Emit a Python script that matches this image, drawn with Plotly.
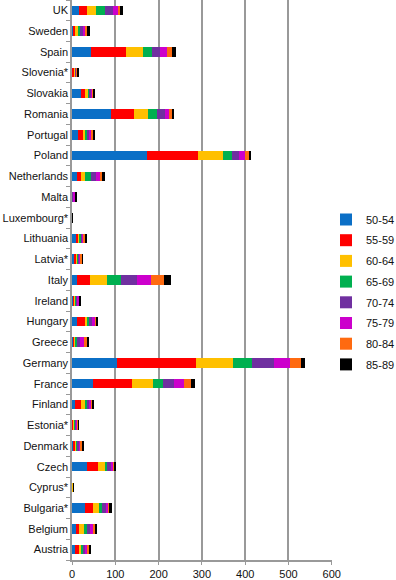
import plotly.graph_objects as go

countries = ["Austria", "Belgium", "Bulgaria*", "Cyprus*", "Czech", "Denmark", "Estonia*",
             "Finland", "France", "Germany", "Greece", "Hungary", "Ireland", "Italy",
             "Latvia*", "Lithuania", "Luxembourg*", "Malta", "Netherlands", "Poland",
             "Portugal", "Romania", "Slovakia", "Slovenia*", "Spain", "Sweden", "UK"]

age_groups = ["50-54", "55-59", "60-64", "65-69", "70-74", "75-79", "80-84", "85-89"]

v50_54 = [6, 9, 29, 0.3, 34, 3, 1, 6, 48, 103, 3, 12, 3, 11, 5.4, 10, 1.5, 0.5, 11, 173, 15, 90, 20, 1, 45, 4.6, 16]
v55_59 = [11, 7.7, 20, 0.3, 26, 4.6, 3, 15.4, 90, 183, 3, 17, 3, 31.5, 4, 4, 0.2, 0.5, 9, 118, 11, 54, 11, 4, 80, 3.8, 18]
v60_64 = [4.6, 11, 14, 3, 15.4, 2.3, 1.5, 9, 48, 85, 3, 6, 1.5, 38.5, 2.3, 4, 0.1, 0.5, 11, 57, 6, 32, 6, 2, 39, 4.6, 22]
v65_69 = [4.6, 6, 6, 0.2, 6, 2.3, 2, 6, 24.6, 45, 4.6, 6, 3, 33, 2.3, 3, 0.1, 0.5, 14, 21.5, 3, 20, 3, 2, 21.5, 5.4, 20]
v70_74 = [6, 7.7, 9, 0.1, 9, 4, 2, 3, 24, 51, 4.6, 4.6, 3, 36, 2.3, 3, 0.1, 1, 11, 15.4, 6, 18.5, 4.6, 1, 18.5, 7.7, 18]
v75_79 = [4.6, 6, 6, 0.1, 4.6, 4, 3.5, 4.6, 24, 36, 9, 7.7, 3, 33, 3, 3, 0.1, 5, 9, 14, 4.6, 11, 3, 1, 15.4, 6.2, 12]
v80_84 = [3, 6, 3, 0.1, 1.5, 3, 1, 3, 15.4, 26, 7.7, 1.5, 1.5, 29, 4.6, 4.6, 0.1, 1, 4.6, 9, 3, 4.6, 1.5, 2, 12.3, 4.6, 6]
v85_89 = [4.6, 4.6, 4.6, 0.1, 5.4, 4, 0.3, 4, 9, 10, 4.6, 5.4, 0.5, 16, 0.5, 1, 0.1, 2.5, 7.7, 6, 4.6, 6, 2, 1, 8.5, 4.6, 6]

series = [v50_54, v55_59, v60_64, v65_69, v70_74, v75_79, v80_84, v85_89]
colors = ["#0B6FC6", "#FF0000", "#FFC000", "#00B050", "#7030A0", "#CC00CC", "#FF6A10", "#000000"]

fig = go.Figure()
for name, vals, col in zip(age_groups, series, colors):
    fig.add_trace(go.Bar(
        y=countries, x=vals, name=name, orientation="h",
        marker=dict(color=col, line=dict(width=0)),
        legendgroup=name,
    ))

PW = 396 - 72 - 64
PH = 580 - 0 - 20
fig.update_layout(
    width=396, height=580,
    barmode="stack", bargap=0.54,
    plot_bgcolor="white", paper_bgcolor="white",
    margin=dict(l=72, r=64, t=0, b=20, autoexpand=False),
    font=dict(family="Liberation Sans, Arial, sans-serif", size=11, color="#111"),
    legend=dict(
        x=(326 - 72) / PW, xanchor="left",
        y=1 - 205 / PH, yanchor="top",
        traceorder="grouped", tracegroupgap=1.7,
        font=dict(size=11),
        bgcolor="rgba(0,0,0,0)", borderwidth=0,
    ),
)

fig.update_xaxes(
    range=[0, 600.5], dtick=100, showgrid=True, gridcolor="#999999", gridwidth=1.5,
    showline=True, linecolor="#999999", linewidth=1.5,
    ticks="outside", ticklen=3, tickcolor="#999999", zeroline=False,
)
fig.update_yaxes(
    type="category", categoryorder="array", categoryarray=countries,
    showline=True, linecolor="#999999", linewidth=1.5,
    ticks="outside", ticklen=4, tickcolor="#999999", tickson="boundaries",
    showgrid=False, range=[-0.5, len(countries) - 0.5],
)

fig.write_html("out.html")
